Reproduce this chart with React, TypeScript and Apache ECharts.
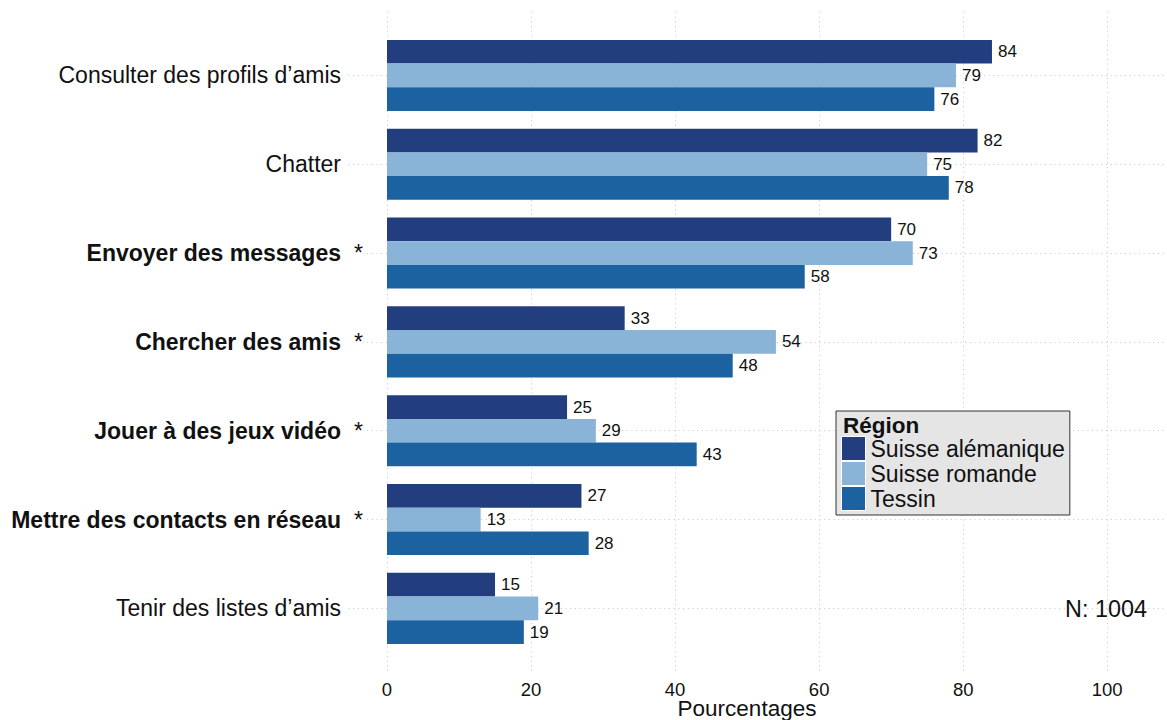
import React, { useEffect, useRef } from "react";
import * as echarts from "echarts";

const categories = [
  "Consulter des profils d’amis",
  "Chatter",
  "Envoyer des messages",
  "Chercher des amis",
  "Jouer à des jeux vidéo",
  "Mettre des contacts en réseau",
  "Tenir des listes d’amis",
];
const significant = [false, false, true, true, true, true, false];
const seriesNames = ["Suisse alémanique", "Suisse romande", "Tessin"];
const suisseAlemanique = [84, 82, 70, 33, 25, 27, 15];
const suisseRomande = [79, 75, 73, 54, 29, 13, 21];
const tessin = [76, 78, 58, 48, 43, 28, 19];
const xTicks = [0, 20, 40, 60, 80, 100];
const xTitle = "Pourcentages";
const legendTitle = "Région";
const note = "N: 1004";

const colors = ["#223e7e", "#8ab4d7", "#1c62a0"];
const FONT = "'Liberation Sans', Arial, Helvetica, sans-serif";
const TXT = "#111111";
const GRIDC = "#c6c6c6";
const DOT: any = [1, 3.7];
const XMAX = 108.3;

export default function App() {
  const ref = useRef<HTMLDivElement>(null);
  useEffect(() => {
    const chart = echarts.init(ref.current!, null, { renderer: "svg" });
    const values = [suisseAlemanique, suisseRomande, tessin];
    const option: any = {
      animation: false,
      textStyle: { fontFamily: FONT },
      grid: [
        { left: 387, right: 0, top: 31, height: 621.8 },
        { left: 387, right: 0, top: 12, bottom: 47 },
      ],
      xAxis: [
        {
          gridIndex: 0,
          type: "value",
          min: 0,
          max: XMAX,
          show: false,
        },
        {
          gridIndex: 1,
          type: "value",
          min: 0,
          max: XMAX,
          interval: 20,
          axisLine: { show: false },
          axisTick: { show: false },
          splitLine: { show: true, lineStyle: { color: GRIDC, type: DOT, width: 1 } },
          axisLabel: {
            fontSize: 18.5,
            color: TXT,
            margin: 7,
            showMaxLabel: false,
            formatter: (v: number) => (xTicks.includes(v) ? String(v) : ""),
          },
        },
      ],
      yAxis: [
        {
          gridIndex: 0,
          type: "category",
          inverse: true,
          data: categories,
          axisLine: { show: false },
          axisTick: {
            show: true,
            alignWithLabel: true,
            length: 39,
            lineStyle: { color: GRIDC, type: DOT, width: 1 },
          },
          axisLabel: {
            margin: 24,
            formatter: (v: string, i: number) =>
              significant[i] ? `{b|${v}}{st|*}` : `{r|${v}}{sp| }`,
            rich: {
              r: { fontSize: 23, color: TXT, fontFamily: FONT },
              b: { fontSize: 23, color: TXT, fontWeight: "bold", fontFamily: FONT },
              st: {
                fontSize: 23,
                color: TXT,
                width: 22,
                align: "right",
                backgroundColor: "#ffffff",
                fontFamily: FONT,
              },
              sp: { fontSize: 23, width: 22, fontFamily: FONT },
            },
          },
        },
        {
          gridIndex: 0,
          type: "category",
          inverse: true,
          data: categories,
          position: "left",
          axisLine: { show: false },
          axisLabel: { show: false },
          axisTick: {
            show: true,
            inside: true,
            alignWithLabel: true,
            length: 780,
            lineStyle: { color: GRIDC, type: DOT, width: 1 },
          },
        },
        { gridIndex: 1, type: "value", min: 0, max: 1, show: false },
      ],
      legend: {
        data: seriesNames,
        orient: "vertical",
        left: 836,
        top: 411,
        padding: [25, 5, 4, 5],
        itemWidth: 24,
        itemHeight: 24,
        itemGap: 0,
        icon: "rect",
        backgroundColor: "#e5e5e5",
        borderColor: "#333333",
        borderWidth: 1,
        borderRadius: 0,
        itemStyle: { borderColor: "#ffffff", borderWidth: 1 },
        textStyle: { fontSize: 23, color: TXT, lineHeight: 24, fontFamily: FONT },
      },
      graphic: [
        {
          type: "text",
          x: 843,
          y: 425,
          z: 100,
          zlevel: 1,
          style: {
            text: legendTitle,
            font: `bold 22.5px ${FONT}`,
            fill: TXT,
            verticalAlign: "middle",
          },
        },
        {
          type: "text",
          x: 747,
          y: 708,
          z: 100,
          style: {
            text: xTitle,
            font: `22.5px ${FONT}`,
            fill: TXT,
            align: "center",
            verticalAlign: "middle",
          },
        },
        {
          type: "text",
          x: 1147,
          y: 609,
          z: 100,
          style: {
            text: note,
            font: `23.4px ${FONT}`,
            fill: TXT,
            align: "right",
            verticalAlign: "middle",
          },
        },
      ],
      series: seriesNames.map((name, k) => ({
        name,
        type: "bar",
        xAxisIndex: 0,
        yAxisIndex: 0,
        data: values[k],
        barGap: "0%",
        barCategoryGap: "20%",
        itemStyle: { color: colors[k] },
        label: {
          show: true,
          position: "right",
          distance: 6,
          fontSize: 17,
          color: TXT,
          fontFamily: FONT,
        },
      })),
    };
    chart.setOption(option);
    return () => chart.dispose();
  }, []);
  return <div ref={ref} style={{ width: 1167, height: 720, position: "absolute", left: 0, top: 0 }} />;
}
